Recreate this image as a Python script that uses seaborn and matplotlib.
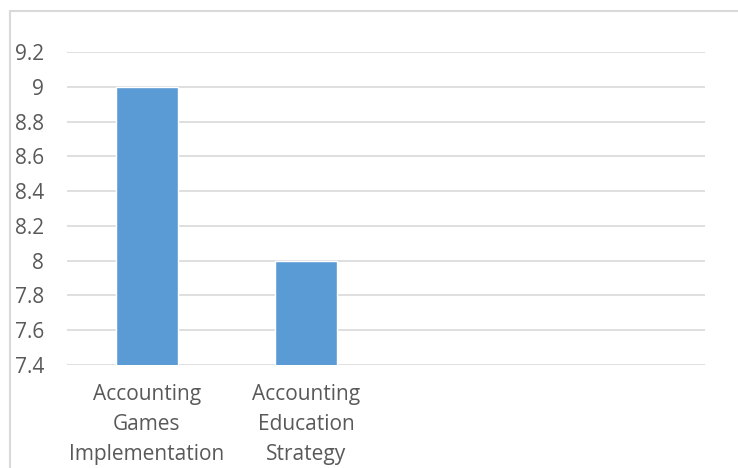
import numpy as np
import pandas as pd
import matplotlib
matplotlib.use("Agg")
import matplotlib.pyplot as plt
import seaborn as sns
from matplotlib.patches import Rectangle

categories = ["Accounting\nGames\nImplementation", "Accounting\nEducation\nStrategy", " ", "  "]
values = [9, 8, np.nan, np.nan]
yticks = [7.4, 7.6, 7.8, 8.0, 8.2, 8.4, 8.6, 8.8, 9.0, 9.2]
ytick_labels = ["7.4", "7.6", "7.8", "8", "8.2", "8.4", "8.6", "8.8", "9", "9.2"]

sns.set_theme(style="white")
plt.rcParams['font.family'] = ['Open Sans', 'DejaVu Sans']

W, H = 738, 468
fig = plt.figure(figsize=(W / 100, H / 100), dpi=100)
ax = fig.add_axes([67 / W, 1 - 365 / H, (705 - 67) / W, (365 - 52) / H])

df = pd.DataFrame({"cat": categories, "val": values})
sns.barplot(data=df, x="cat", y="val", color="#5B9BD5", saturation=1, width=0.39, ax=ax, zorder=3)

ax.set_ylim(7.4, 9.2)
ax.set_xlim(-0.5, 3.5)
ax.set_yticks(yticks)
ax.set_yticklabels(ytick_labels)
ax.yaxis.grid(True, color="#d9d9d9", linewidth=1.2, zorder=0)
ax.set_axisbelow(True)
for s in ax.spines.values():
    s.set_visible(False)
ax.set_xlabel("")
ax.set_ylabel("")
ax.tick_params(axis="y", length=0, pad=16.5, labelsize=15, labelcolor="#595959")
ax.tick_params(axis="x", length=0, pad=14, labelsize=15, labelcolor="#595959")
for lbl in ax.get_xticklabels():
    lbl.set_linespacing(1.56)

# chart border
fig.patches.append(Rectangle((10 / W, -0.1), 1.2, (H - 11) / H + 0.1, transform=fig.transFigure,
                             fill=False, edgecolor="#d9d9d9", linewidth=1.5))

fig.savefig("out.png", dpi=100)
